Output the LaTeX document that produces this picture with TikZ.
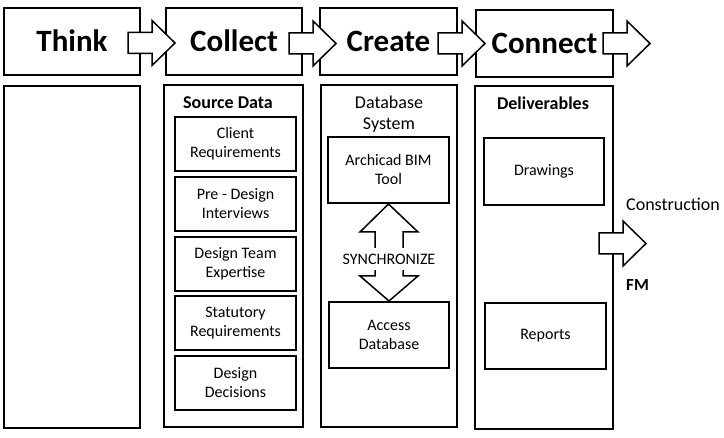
\documentclass[tikz,border=0pt]{standalone}
\usepackage{fontspec}
\setmainfont{Carlito}
\begin{document}
\begin{tikzpicture}[x=1pt,y=-1pt,
  topbox/.style={draw, line width=1.5pt, inner sep=0pt, text height=21pt, text depth=0pt, font=\fontsize{31}{37}\selectfont\bfseries},
  panel/.style={draw, line width=1.5pt, inner sep=0pt},
  inbox/.style={draw, line width=2pt, inner sep=0pt, align=center, font=\fontsize{16}{19}\selectfont},
  ttl/.style={inner sep=0pt, align=center, font=\fontsize{18}{21}\selectfont},
  lbl/.style={inner sep=0pt, anchor=west, font=\fontsize{18}{21}\selectfont},
  blockarrow/.pic={\draw[line width=1.5pt, fill=white, line join=miter]
     (0,-10.5) -- (24,-10.5) -- (24,-22.5) -- (47,0) -- (24,22.5) -- (24,10.5) -- (0,10.5) -- cycle;}
]
\useasboundingbox (0,0) rectangle (724,438);

% top stage boxes
\node[topbox, minimum width=136, minimum height=67] (think)   at (72,41.5)    {Think};
\node[topbox, minimum width=136, minimum height=67] (collect) at (234,41.5)   {Collect};
\node[topbox, minimum width=137, minimum height=67] (create)  at (388.5,41.5) {Create};
\node[topbox, minimum width=137, minimum height=67] (connect) at (544.5,43.5) {Connect};

% lower panels
\node[panel, minimum width=136, minimum height=342] (pthink)   at (72,257)    {};
\node[panel, minimum width=139, minimum height=342] (pcollect) at (233.5,256) {};
\node[panel, minimum width=136, minimum height=342] (pcreate)  at (389,256)   {};
\node[panel, minimum width=138, minimum height=343] (pconnect) at (544,257.5) {};

% block arrows between stages
\pic at (128,43) {blockarrow};
\pic at (289,43.5) {blockarrow};
\pic at (438,43.5) {blockarrow};
\pic at (603,43.5) {blockarrow};

% Collect panel
\node[ttl, font=\fontsize{18}{21}\selectfont\bfseries] (srcdata) at (228,103) {Source Data};
\node[inbox, minimum width=121, minimum height=54] (client)   at (235.5,144) {Client\\Requirements};
\node[inbox, minimum width=121, minimum height=54] (predes)   at (235.5,204) {Pre - Design\\Interviews};
\node[inbox, minimum width=121, minimum height=54] (team)     at (235.5,264) {Design Team\\Expertise};
\node[inbox, minimum width=121, minimum height=54] (statut)   at (235.5,323) {Statutory\\Requirements};
\node[inbox, minimum width=121, minimum height=54] (decis)    at (235.5,383) {Design\\Decisions};

% Create panel
\node[ttl] (dbsys) at (389,114.5) {Database\\System};
\node[inbox, minimum width=121, minimum height=66] (archicad) at (388.5,170) {Archicad BIM\\Tool};
\node[inbox, minimum width=120, minimum height=66] (access)   at (389,335)   {Access\\Database};
\draw[line width=1.5pt, fill=white, line join=miter]
  (archicad.south) -- (418,232) -- (403,232) -- (403,276) -- (418,276)
  -- (access.north) -- (360,276) -- (375,276) -- (375,232) -- (360,232) -- cycle;
\node[fill=white, inner sep=0pt, minimum height=22, font=\fontsize{16}{19}\selectfont] (sync) at (389,259) {SYNCHRONIZE};

% Connect panel
\node[ttl, font=\fontsize{18}{21}\selectfont\bfseries] (deliv) at (543,103) {Deliverables};
\node[inbox, minimum width=120, minimum height=67] (drawings) at (544,171.5) {Drawings};
\node[inbox, minimum width=121, minimum height=66] (reports)  at (545.5,336) {Reports};

% output arrow
\pic at (599,243.5) {blockarrow};
\node[lbl] (constr) at (626,204) {Construction};
\node[lbl, font=\fontsize{17}{20}\selectfont\bfseries] (fm) at (626,285) {FM};
\end{tikzpicture}
\end{document}
